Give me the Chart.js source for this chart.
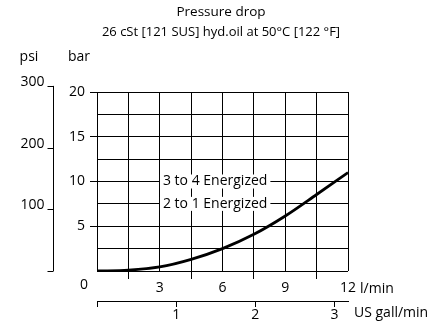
<!DOCTYPE html>
<html>
<head>
<title>Pressure drop</title>
<script src="https://cdn.jsdelivr.net/npm/chart.js@4.4.0/dist/chart.umd.min.js"></script>
<style>
  body { margin: 0; background: #fff; }
</style>
</head>
<body>
<canvas id="chart" width="438" height="325"></canvas>
<script>
// values
const flowLpm = [0, 1.5, 3, 4.5, 6, 7.5, 9, 10.5, 12];
const dropBar = [0, 0.1, 0.45, 1.3, 2.5, 4.1, 6.15, 8.55, 11.0];
const psiTicks = [0, 100, 200, 300];
const titleLines = ['Pressure drop', '26 cSt [121 SUS] hyd.oil at 50°C [122 °F]'];
const curveLabels = ['3 to 4 Energized', '2 to 1 Energized'];
const curveLabelBar = [10, 7.5];
const curveLabelLpm = 5.65;

const PSI_PER_BAR = 14.5038;
const LPM_PER_GAL = 3.785411784;
const FONT = "'Open Sans', sans-serif";

Chart.defaults.font.family = FONT;
Chart.defaults.font.size = 14;
Chart.defaults.color = '#000';

const clear = 'rgba(0,0,0,0)';

// text, psi axis and curve labels
const extras = {
  id: 'extras',
  afterDraw(chart) {
    const ctx = chart.ctx;
    const a = chart.chartArea;
    const y = chart.scales.y;
    const x = chart.scales.x;
    ctx.save();
    ctx.fillStyle = '#000';
    ctx.strokeStyle = '#000';
    ctx.textBaseline = 'middle';

    // title
    ctx.textAlign = 'center';
    ctx.font = '13.5px ' + FONT;
    ctx.fillText(titleLines[0], 221, 12);
    ctx.font = '13px ' + FONT;
    ctx.fillText(titleLines[1], 221, 32);

    // unit labels
    ctx.font = '14px ' + FONT;
    ctx.fillText('psi', 29, 57);
    ctx.fillText('bar', 79, 57);
    ctx.fillText('0', a.left - 13, a.bottom + 14);
    ctx.textAlign = 'left';
    ctx.fillText('l/min', a.right + 12, a.bottom + 18);
    ctx.fillText('US gall/min', a.right + 6, a.bottom + 42);

    // psi axis
    const px = a.left - 43.5;
    ctx.lineWidth = 1;
    ctx.beginPath();
    ctx.moveTo(px, y.getPixelForValue(0));
    ctx.lineTo(px, y.getPixelForValue(psiTicks[psiTicks.length - 1] / PSI_PER_BAR));
    psiTicks.forEach(p => {
      const py = Math.round(y.getPixelForValue(p / PSI_PER_BAR)) + 0.5;
      ctx.moveTo(px - 6, py);
      ctx.lineTo(px, py);
    });
    ctx.stroke();
    ctx.textAlign = 'right';
    psiTicks.forEach(p => {
      if (p === 0) return;
      ctx.fillText(String(p), px - 9, y.getPixelForValue(p / PSI_PER_BAR) - 4);
    });

    // curve labels on white boxes
    ctx.font = '14px ' + FONT;
    ctx.textAlign = 'center';
    const cx = x.getPixelForValue(curveLabelLpm);
    curveLabels.forEach((t, i) => {
      const cy = y.getPixelForValue(curveLabelBar[i]);
      const w = ctx.measureText(t).width + 6;
      ctx.fillStyle = '#fff';
      ctx.fillRect(cx - w / 2, cy - 7, w, 14);
      ctx.fillStyle = '#000';
      ctx.fillText(t, cx, cy);
    });
    ctx.restore();
  }
};

new Chart(document.getElementById('chart'), {
  type: 'line',
  data: {
    labels: flowLpm,
    datasets: [{
      data: flowLpm.map((f, i) => ({ x: f, y: dropBar[i] })),
      borderColor: '#000',
      borderWidth: 2.8,
      pointRadius: 0,
      cubicInterpolationMode: 'monotone',
      fill: false
    }]
  },
  options: {
    responsive: false,
    animation: false,
    layout: { padding: { top: 92, right: 90, left: 0, bottom: 0 } },
    plugins: { legend: { display: false }, tooltip: { enabled: false } },
    scales: {
      x: {
        type: 'linear',
        position: 'bottom',
        min: 0,
        max: 12,
        afterFit: s => { s.height = 30; },
        border: { display: false },
        grid: {
          color: '#000',
          lineWidth: 1,
          tickLength: 8,
          tickColor: c => (c.tick && c.tick.value % 3 !== 0) ? '#000' : clear
        },
        ticks: {
          stepSize: 1.5,
          autoSkip: false,
          maxRotation: 0,
          padding: 1,
          callback: v => (v % 3 === 0 && v !== 0) ? v : ''
        }
      },
      x2: {
        type: 'linear',
        position: 'bottom',
        bounds: 'data',
        min: 0,
        max: 12 / LPM_PER_GAL,
        afterFit: s => { s.height = 24; },
        border: { display: true, color: '#000', width: 1 },
        grid: { drawOnChartArea: false, tickLength: 6, tickColor: '#000' },
        ticks: {
          stepSize: 1,
          includeBounds: false,
          autoSkip: false,
          maxRotation: 0,
          padding: 0,
          callback: v => v === 0 ? '' : v
        }
      },
      y: {
        min: 0,
        max: 20,
        afterFit: s => { s.width = 97; },
        border: { display: false },
        grid: {
          color: '#000',
          lineWidth: 1,
          tickLength: 7,
          tickColor: c => (c.tick && c.tick.value % 5 === 0 && c.tick.value !== 0) ? '#000' : clear
        },
        ticks: {
          stepSize: 2.5,
          padding: 5,
          callback: v => (v % 5 === 0 && v !== 0) ? v : ''
        }
      }
    }
  },
  plugins: [extras]
});
</script>
</body>
</html>
